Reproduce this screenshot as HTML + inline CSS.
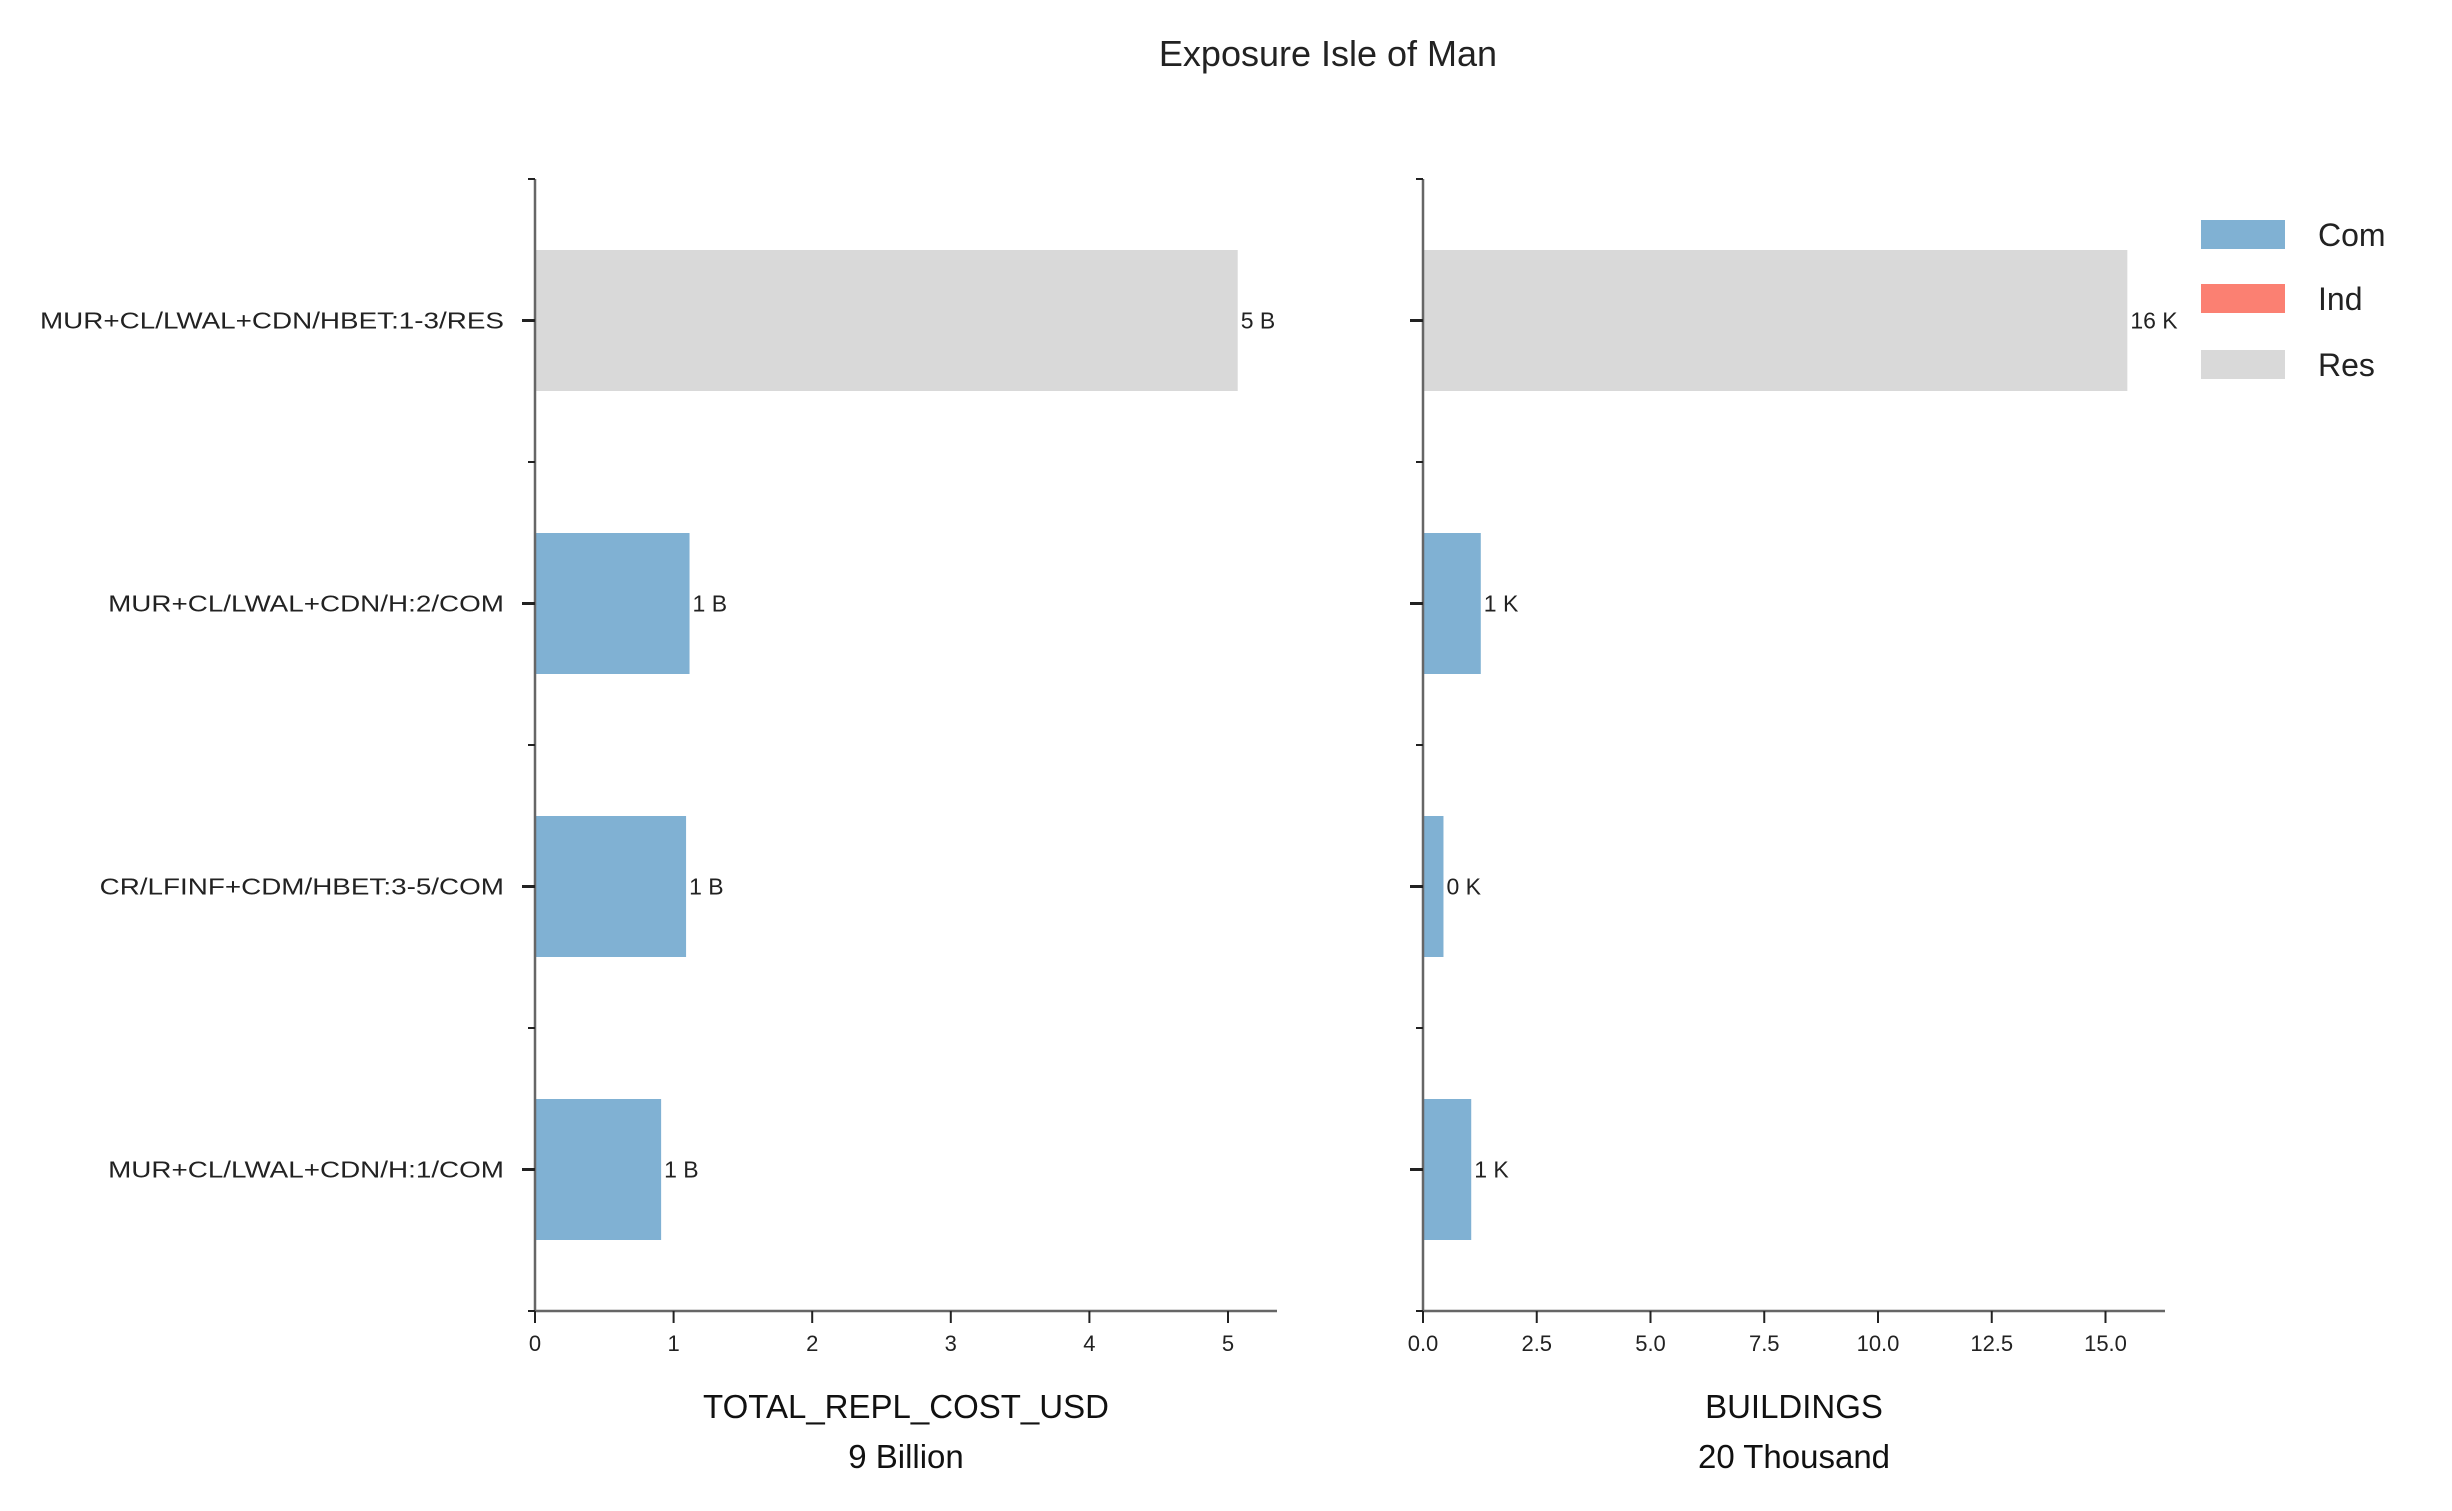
<!DOCTYPE html>
<html><head><meta charset="utf-8"><style>
html,body{margin:0;padding:0;background:#fff;}
svg{display:block;font-family:"Liberation Sans",sans-serif;}
</style></head><body>
<svg id="chart" width="2452" height="1511" viewBox="0 0 2452 1511" xmlns="http://www.w3.org/2000/svg">
<text x="1328" y="66" font-size="36" text-anchor="middle" fill="#222">Exposure Isle of Man</text>
<g id="left"></g>
<g id="right"></g>
<g>
<rect x="2201" y="220" width="84" height="29" fill="#80b1d3"/>
<text x="2318" y="246" font-size="32" fill="#222">Com</text>
<rect x="2201" y="284" width="84" height="29" fill="#fb8072"/>
<text x="2318" y="310" font-size="32" fill="#222">Ind</text>
<rect x="2201" y="350" width="84" height="29" fill="#d9d9d9"/>
<text x="2318" y="376" font-size="32" fill="#222">Res</text>
</g>
</svg>
<script>
const categories = ["MUR+CL/LWAL+CDN/HBET:1-3/RES","MUR+CL/LWAL+CDN/H:2/COM","CR/LFINF+CDM/HBET:3-5/COM","MUR+CL/LWAL+CDN/H:1/COM"];
const occupancy = ["res","com","com","com"];
const costValues = [5.07,1.115,1.09,0.91];
const costLabels = ["5 B","1 B","1 B","1 B"];
const buildingValues = [15.48,1.27,0.45,1.06];
const buildingLabels = ["16 K","1 K","0 K","1 K"];
const costTicks = [0,1,2,3,4,5];
const costTickLabels = ["0","1","2","3","4","5"];
const bldTicks = [0,2.5,5,7.5,10,12.5,15];
const bldTickLabels = ["0.0","2.5","5.0","7.5","10.0","12.5","15.0"];
const colors = {com:"#80b1d3",ind:"#fb8072",res:"#d9d9d9"};
const NS="http://www.w3.org/2000/svg";
const top0=179, bottom=1311;
const band=(bottom-top0)/categories.length;
function yCenter(i){return top0+band*(i+0.5);}
function mk(tag,attrs,parent){const e=document.createElementNS(NS,tag);for(const k in attrs)e.setAttribute(k,attrs[k]);parent.appendChild(e);return e;}
function panel(g,x0,x1,unit,values,labels,ticks,tickLabels,title1,title2,showCats,pfx){
  const xs=v=>x0+v*unit;
  values.forEach((v,i)=>{
    const r=mk('rect',{x:x0,y:yCenter(i)-70.5,width:xs(v)-x0,height:141,fill:colors[occupancy[i]]},g);
    
    
    const t=mk('text',{x:xs(v)+3,y:yCenter(i)+8,'font-size':23,fill:'#222'},g);
    
    
    t.textContent=labels[i];
  });
  const ax=mk('line',{x1:x0,y1:top0,x2:x0,y2:bottom,stroke:'#666','stroke-width':2.5},g);
  
  
  const bx=mk('line',{x1:x0,y1:bottom,x2:x1,y2:bottom,stroke:'#666','stroke-width':2.5},g);
  
  
  for(let i=0;i<=categories.length;i++){
    const m=mk('line',{x1:x0-7,y1:top0+band*i,x2:x0,y2:top0+band*i,stroke:'#222','stroke-width':2},g);
    
    
  }
  categories.forEach((c,i)=>{
    const m=mk('line',{x1:x0-13,y1:yCenter(i),x2:x0,y2:yCenter(i),stroke:'#222','stroke-width':3},g);
    
    
    if(showCats){
      const t=mk('text',{x:x0-31,y:yCenter(i)+8,'font-size':23,'text-anchor':'end',fill:'#222'},g);
      
      
      t.textContent=c;
      const w=t.getComputedTextLength();
      t.setAttribute('textLength',(w*1.21).toFixed(1));
      t.setAttribute('lengthAdjust','spacingAndGlyphs');
    }
  });
  ticks.forEach((v,i)=>{
    const m=mk('line',{x1:xs(v),y1:bottom,x2:xs(v),y2:bottom+12,stroke:'#222','stroke-width':2},g);
    
    
    const t=mk('text',{x:xs(v),y:bottom+40,'font-size':22,'text-anchor':'middle',fill:'#222'},g);
    
    
    t.textContent=tickLabels[i];
  });
  const cx=(x0+x1)/2;
  const a=mk('text',{x:cx,y:1418,'font-size':33,'text-anchor':'middle',fill:'#111'},g);
  
  
  a.textContent=title1;
  const b=mk('text',{x:cx,y:1468,'font-size':33,'text-anchor':'middle',fill:'#111'},g);
  
  
  b.textContent=title2;
}
panel(document.getElementById('left'),535,1277,138.6,costValues,costLabels,costTicks,costTickLabels,"TOTAL_REPL_COST_USD","9 Billion",true,'cost');
panel(document.getElementById('right'),1423,2165,45.5,buildingValues,buildingLabels,bldTicks,bldTickLabels,"BUILDINGS","20 Thousand",false,'buildings');
</script>
</body></html>
